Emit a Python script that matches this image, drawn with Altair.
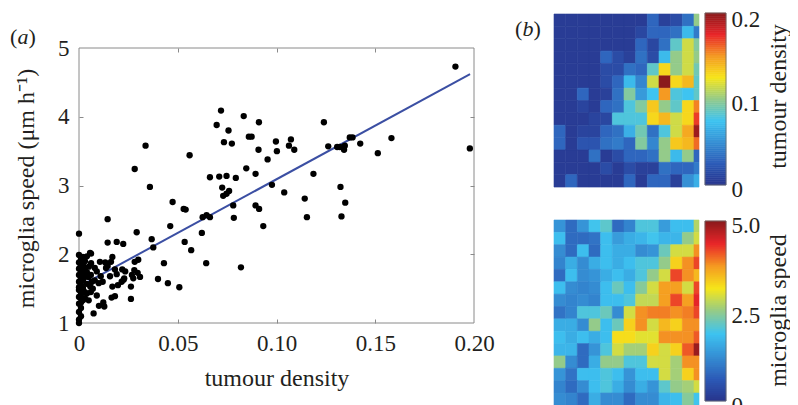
import altair as alt
import pandas as pd
import numpy as np

W, H = 782, 400
FONT = "Liberation Serif"
INK = "#231f20"
FRAME = "#8a8a8a"

# ---------------- panel (a): scatter data ----------------
tumour_density = [
    0.0719, 0.0834, 0.0911, 0.0697, 0.0757, 0.0860, 0.0874, 0.0734, 0.0774, 0.0997,
    0.1073, 0.1063, 0.1090, 0.1002, 0.0909, 0.0955, 0.0560, 0.0847, 0.0894, 0.0663,
    0.0710, 0.0747, 0.0794, 0.1187, 0.0359, 0.0725, 0.0760, 0.0747, 0.0730, 0.0977,
    0.1039, 0.1143, 0.1154, 0.0781, 0.0894, 0.0912, 0.0784, 0.0933, 0.0474, 0.0530,
    0.0540, 0.0626, 0.0646, 0.0663, 0.0462, 0.0622, 0.0368, 0.0376, 0.0535, 0.0568,
    0.0430, 0.0644, 0.0820, 0.0400, 0.0450, 0.0508, 0.1906, 0.1240, 0.1582, 0.1371,
    0.1385, 0.1262, 0.1307, 0.1321, 0.1346, 0.1342, 0.1424, 0.1513, 0.1979, 0.1324,
    0.1348, 0.1329, 0.0337, 0.0282,
    0.0000, 0.0145, 0.0292, 0.0145, 0.0191, 0.0224, 0.0300, 0.0280, 0.0297, 0.0309,
    0.0275, 0.0263, 0.0263, 0.0074, 0.0061, 0.0133, 0.0162, 0.0169, 0.0145, 0.0137,
    0.0182, 0.0191, 0.0157, 0.0219, 0.0229, 0.0216, 0.0169, 0.0182, 0.0165, 0.0123,
    0.0101, 0.0128, 0.0234, 0.0226, 0.0197, 0.0049, 0.0066, 0.0057, 0.0040, 0.0049,
    0.0106, 0.0056, 0.0061, 0.0268, 0.0282,
    0.000, 0.000, 0.001, 0.000, 0.001, 0.000, 0.002, 0.000, 0.001, 0.003,
    0.000, 0.002, 0.001, 0.004, 0.000, 0.002, 0.001, 0.003, 0.000, 0.002,
    0.004, 0.001, 0.000, 0.003, 0.001, 0.002, 0.000, 0.003, 0.001, 0.002,
    0.000, 0.004, 0.001, 0.005, 0.000, 0.003, 0.001, 0.002, 0.006, 0.008,
    0.009, 0.010, 0.007, 0.011, 0.008, 0.012, 0.006, 0.009,
]
microglia_speed = [
    4.09, 4.01, 3.92, 3.88, 3.80, 3.71, 3.71, 3.63, 3.61, 3.64,
    3.67, 3.58, 3.52, 3.50, 3.52, 3.38, 3.44, 3.25, 3.17, 3.12,
    3.13, 3.14, 3.11, 3.17, 2.98, 2.97, 2.92, 2.88, 2.85, 3.01,
    2.90, 2.81, 2.54, 2.71, 2.71, 2.66, 2.53, 2.41, 2.76, 2.66,
    2.65, 2.54, 2.57, 2.54, 2.41, 2.31, 2.22, 2.10, 2.18, 2.06,
    1.87, 1.87, 1.81, 1.64, 1.58, 1.52, 4.73, 3.92, 3.69, 3.70,
    3.70, 3.57, 3.56, 3.56, 3.58, 3.52, 3.61, 3.47, 3.54, 2.98,
    2.75, 2.55, 3.58, 3.24,
    2.30, 2.51, 2.32, 2.17, 2.18, 2.15, 1.92, 1.77, 1.73, 1.67,
    1.65, 1.53, 1.35, 1.14, 2.01, 1.88, 1.89, 1.96, 1.83, 1.80,
    1.78, 1.71, 1.68, 1.78, 1.65, 1.60, 1.53, 1.39, 1.37, 1.30,
    1.25, 1.24, 1.75, 1.63, 1.55, 1.67, 1.60, 1.53, 1.43, 1.33,
    1.89, 2.02, 1.87, 1.70, 1.89,
    1.00, 1.05, 1.10, 1.16, 1.22, 1.28, 1.33, 1.38, 1.42, 1.45,
    1.48, 1.51, 1.55, 1.57, 1.60, 1.62, 1.65, 1.67, 1.70, 1.72,
    1.74, 1.76, 1.79, 1.80, 1.83, 1.86, 1.88, 1.90, 1.93, 1.96,
    1.99, 1.97, 1.85, 1.82, 1.52, 1.36, 1.30, 1.48, 1.70, 1.62,
    1.75, 1.58, 1.50, 1.68, 1.80, 1.60, 1.45, 1.40,
]
fit_x = [0.0, 0.198]
fit_y = [1.53, 4.62]
x_ticks = [0, 0.05, 0.10, 0.15, 0.20]
y_ticks = [1, 2, 3, 4, 5]

# ---------------- panel (b): heat-map grids ----------------
density_grid = [
    [0.005, 0.005, 0.005, 0.005, 0.005, 0.005, 0.005, 0.005, 0.030, 0.008, 0.015, 0.035, 0.100],
    [0.005, 0.005, 0.005, 0.005, 0.005, 0.005, 0.005, 0.012, 0.030, 0.030, 0.035, 0.070, 0.040],
    [0.005, 0.005, 0.005, 0.005, 0.005, 0.005, 0.005, 0.030, 0.012, 0.035, 0.085, 0.115, 0.095],
    [0.005, 0.005, 0.005, 0.005, 0.030, 0.015, 0.008, 0.035, 0.015, 0.070, 0.100, 0.115, 0.100],
    [0.005, 0.005, 0.005, 0.005, 0.015, 0.015, 0.035, 0.030, 0.085, 0.130, 0.100, 0.115, 0.090],
    [0.005, 0.005, 0.005, 0.005, 0.015, 0.030, 0.070, 0.045, 0.115, 0.200, 0.130, 0.140, 0.085],
    [0.005, 0.005, 0.030, 0.005, 0.008, 0.035, 0.095, 0.055, 0.075, 0.150, 0.080, 0.075, 0.085],
    [0.005, 0.005, 0.010, 0.005, 0.030, 0.035, 0.080, 0.095, 0.135, 0.100, 0.085, 0.130, 0.155],
    [0.005, 0.005, 0.005, 0.010, 0.012, 0.080, 0.080, 0.080, 0.130, 0.140, 0.115, 0.130, 0.170],
    [0.030, 0.005, 0.010, 0.010, 0.030, 0.035, 0.065, 0.090, 0.035, 0.080, 0.115, 0.145, 0.195],
    [0.030, 0.005, 0.020, 0.020, 0.035, 0.040, 0.030, 0.095, 0.045, 0.100, 0.135, 0.140, 0.160],
    [0.005, 0.005, 0.005, 0.035, 0.005, 0.015, 0.030, 0.030, 0.035, 0.100, 0.070, 0.100, 0.030],
    [0.005, 0.005, 0.005, 0.005, 0.015, 0.005, 0.015, 0.008, 0.008, 0.035, 0.030, 0.030, 0.040],
    [0.005, 0.030, 0.005, 0.005, 0.005, 0.005, 0.030, 0.005, 0.030, 0.030, 0.008, 0.050, 0.065],
]
speed_grid = [
    [1.3, 0.8, 1.3, 1.9, 2.1, 0.8, 1.1, 2.0, 2.0, 1.4, 1.8, 1.8, 2.7],
    [1.8, 0.8, 0.8, 0.9, 1.8, 1.4, 1.6, 1.7, 1.9, 1.7, 1.7, 2.5, 2.9],
    [1.2, 0.8, 1.8, 0.8, 1.8, 1.6, 1.6, 1.2, 1.3, 2.2, 2.9, 2.9, 3.8],
    [1.1, 1.6, 1.2, 1.6, 1.8, 1.6, 1.8, 2.0, 2.0, 2.5, 3.3, 3.8, 4.2],
    [0.8, 1.8, 1.2, 1.3, 1.6, 1.8, 1.6, 2.0, 2.5, 2.9, 4.2, 3.8, 3.5],
    [1.8, 1.2, 1.1, 1.2, 1.8, 2.2, 1.8, 2.4, 2.9, 3.7, 3.7, 2.9, 4.2],
    [1.2, 1.1, 1.2, 1.1, 1.8, 1.8, 2.0, 2.8, 2.8, 3.7, 4.2, 3.7, 4.4],
    [0.9, 1.1, 2.0, 2.0, 2.2, 1.2, 2.9, 3.8, 3.9, 3.9, 3.8, 3.9, 4.2],
    [1.6, 1.6, 1.2, 2.5, 1.8, 2.2, 3.3, 3.8, 2.9, 3.5, 3.3, 3.8, 3.8],
    [1.8, 1.6, 1.8, 1.6, 1.8, 3.2, 3.2, 3.0, 3.0, 3.8, 3.8, 3.8, 4.1],
    [1.7, 1.7, 0.8, 1.3, 2.0, 2.9, 2.6, 2.6, 3.3, 2.9, 3.3, 4.1, 4.9],
    [2.5, 1.2, 0.8, 1.6, 2.5, 2.5, 2.0, 2.0, 2.9, 2.9, 2.6, 3.8, 3.8],
    [1.3, 0.9, 1.8, 1.8, 2.0, 1.8, 1.3, 1.8, 1.8, 2.9, 2.6, 3.3, 3.8],
    [1.1, 0.8, 1.2, 1.8, 2.0, 1.6, 1.2, 1.6, 1.3, 2.1, 2.5, 2.6, 2.9],
    [1.2, 1.1, 0.8, 1.6, 1.2, 1.2, 0.8, 1.2, 1.2, 1.7, 1.8, 2.4, 1.9],
]
density_ticks = [0, 0.1, 0.2]
speed_ticks = [0, 2.5, 5.0]

# jet-like colour map (printed tones)
jet_stops = [0, 0.125, 0.375, 0.5, 0.625, 0.75, 0.875, 1.0]
jet_colors = ["#28348c", "#2d5cb8", "#3ec4f1", "#94cb8a", "#f6e61b", "#f59a22", "#e9262a", "#8b1a1c"]


def grid_frame(grid):
    recs = []
    for r, row in enumerate(grid):
        for c, v in enumerate(row):
            recs.append({"row": r, "col": c, "v": v})
    return pd.DataFrame(recs)


def bar_frame(vmax, n=90):
    edges = np.linspace(0, vmax, n + 1)
    return pd.DataFrame({"lo": edges[:-1], "hi": edges[1:], "mid": (edges[:-1] + edges[1:]) / 2})


pts = pd.DataFrame({"td": tumour_density, "ms": microglia_speed})
fit = pd.DataFrame({"td": fit_x, "ms": fit_y})
box = pd.DataFrame({"x0": [x_ticks[0]], "x1": [x_ticks[-1]], "y0": [y_ticks[0]], "y1": [y_ticks[-1]]})
one = pd.DataFrame({"k": [0]})

xs = alt.Scale(domain=[0, 0.2], range=[71, 466], nice=False, zero=False)
ys = alt.Scale(domain=[1, 5], range=[315, 40], nice=False, zero=False)

frame_box = alt.Chart(box).mark_rect(fillOpacity=0, stroke=FRAME, strokeWidth=1).encode(
    x=alt.X("x0:Q", scale=xs, axis=None), x2="x1:Q",
    y=alt.Y("y0:Q", scale=ys, axis=None), y2="y1:Q",
)

points = alt.Chart(pts).mark_circle(size=40, color="black", opacity=1).encode(
    x=alt.X("td:Q", scale=xs, axis=alt.Axis(
        orient="bottom", offset=315 - H, values=x_ticks,
        labelExpr="datum.value == 0 ? '0' : format(datum.value, '.2f')",
        labelFlush=False, labelOverlap=False, domain=False,
        ticks=False, tickSize=0, labelPadding=9,
        title="tumour density", titlePadding=11, grid=False)),
    y=alt.Y("ms:Q", scale=ys, axis=alt.Axis(
        orient="left", offset=-71, values=y_ticks, ticks=False, tickSize=0,
        labelFlush=False, labelOverlap=False, domain=False,
        labelPadding=10, title="microglia speed (μm h⁻¹)",
        titleAngle=270, titleX=-53, titleY=180, titleAlign="center",
        titleBaseline="middle", grid=False)),
)

fit_line = alt.Chart(fit).mark_line(color="#3b4fa3", strokeWidth=2).encode(
    x=alt.X("td:Q", scale=xs, axis=None),
    y=alt.Y("ms:Q", scale=ys, axis=None),
)

# inward ticks on the bottom and left edges
ticks_in = alt.Chart(pts).mark_point(opacity=0).encode(
    x=alt.X("td:Q", scale=xs, axis=alt.Axis(
        orient="top", offset=-315, values=x_ticks[1:-1], labels=False, domain=False,
        ticks=True, tickSize=4, tickColor=FRAME, tickWidth=1, title=None, grid=False)),
    y=alt.Y("ms:Q", scale=ys, axis=alt.Axis(
        orient="right", offset=71 - W, values=y_ticks[1:-1], labels=False, domain=False,
        ticks=True, tickSize=4, tickColor=FRAME, tickWidth=1, title=None, grid=False)),
)

# inward ticks on the top and right edges
ticks_tr = alt.Chart(pts).mark_point(opacity=0).encode(
    x=alt.X("td:Q", scale=xs, axis=alt.Axis(
        orient="bottom", offset=40 - H, values=x_ticks[1:-1], labels=False, domain=False,
        ticks=True, tickSize=4, tickColor=FRAME, tickWidth=1, title=None, grid=False)),
    y=alt.Y("ms:Q", scale=ys, axis=alt.Axis(
        orient="left", offset=-466, values=y_ticks[1:-1], labels=False, domain=False,
        ticks=True, tickSize=4, tickColor=FRAME, tickWidth=1, title=None, grid=False)),
)

# ---------------- heat maps ----------------
hx = alt.Scale(domain=[0, 12.43], range=[546, 691], nice=False, zero=False)
dens_color = alt.Scale(domain=[0.2 * f for f in jet_stops], range=jet_colors, interpolate="rgb")
speed_color = alt.Scale(domain=[5.0 * f for f in jet_stops], range=jet_colors, interpolate="rgb")


def heat(grid, y0, color_scale):
    n = len(grid)
    ysc = alt.Scale(domain=[0, n], range=[y0, y0 + n * 12.36], nice=False, zero=False)
    return alt.Chart(grid_frame(grid)).transform_calculate(
        col_end="min(datum.col + 1, 12.43)", row_end="datum.row + 1"
    ).mark_rect(strokeWidth=0.6).encode(
        x=alt.X("col:Q", scale=hx, axis=None), x2="col_end:Q",
        y=alt.Y("row:Q", scale=ysc, axis=None), y2="row_end:Q",
        color=alt.Color("v:Q", scale=color_scale, legend=None),
        stroke=alt.Stroke("v:Q", scale=color_scale, legend=None),
    )


heat_top = heat(density_grid, 6, dens_color)
heat_bot = heat(speed_grid, 212, speed_color)


def colorbar(vmax, y_bot, y_top, color_scale, ticks, fmt, title, title_y, loff, top_off):
    return alt.Chart(bar_frame(vmax)).mark_rect(strokeWidth=0.6).encode(
        x=alt.value(697), x2=alt.value(718),
        y=alt.Y("lo:Q", scale=alt.Scale(domain=[0, vmax], range=[y_bot, y_top], nice=False, zero=False),
                axis=alt.Axis(orient="right", offset=718 - W, values=ticks,
                              labelExpr="datum.value == 0 ? '0' : format(datum.value, '" + fmt + "')",
                              labelFlush=False, labelOverlap=False,
                              labelOffset={"condition": {"test": "datum.value == " + str(vmax), "value": top_off},
                                           "value": loff},
                              ticks=False, tickSize=0, domain=False, labelPadding=5,
                              title=title, titleAngle=270, titleX=52, titleY=title_y,
                              titleAlign="center", titleBaseline="middle", grid=False)),
        y2="hi:Q",
        color=alt.Color("mid:Q", scale=color_scale, legend=None),
        stroke=alt.Stroke("mid:Q", scale=color_scale, legend=None),
    )


def bar_box(y_top, y_bot):
    return alt.Chart(one).mark_rect(fillOpacity=0, stroke="#6d6d6d", strokeWidth=0.8).encode(
        x=alt.value(697), x2=alt.value(718), y=alt.value(y_top), y2=alt.value(y_bot))


cb_top = colorbar(0.2, 177, 5, dens_color, density_ticks, ".1f", "tumour density", 88, 4, 6.6)
cb_bot = colorbar(5.0, 393, 213, speed_color, speed_ticks, ".1f", "microglia speed", 302, 4, 4)
box_top = bar_box(5, 177)
box_bot = bar_box(213, 393)


def label(txt, x, y, italic=False):
    return alt.Chart(one).mark_text(
        text=txt, fontSize=22, font=FONT, color=INK, align="left", baseline="middle",
        fontStyle="italic" if italic else "normal",
    ).encode(x=alt.value(x), y=alt.value(y))


labels = [
    label("(", 2, 28.5), label("a", 9.5, 28.5, True), label(")", 20.5, 28.5),
    label("(", 507, 21), label("b", 514.5, 21, True), label(")", 525.5, 21),
]

chart = alt.layer(
    heat_top, heat_bot, cb_top, cb_bot, box_top, box_bot,
    frame_box, ticks_tr, ticks_in, fit_line, points, *labels
).resolve_scale(
    x="independent", y="independent", color="independent", stroke="independent"
).properties(
    width=W, height=H, autosize=alt.AutoSizeParams(type="none"), padding=0
).configure_view(stroke=None).configure_axis(
    labelFont=FONT, titleFont=FONT, labelFontSize=23, titleFontSize=24,
    labelColor=INK, titleColor=INK, titleFontWeight="normal", grid=False,
)

chart.save("out.html", embed_options={"renderer": "svg", "actions": False})
